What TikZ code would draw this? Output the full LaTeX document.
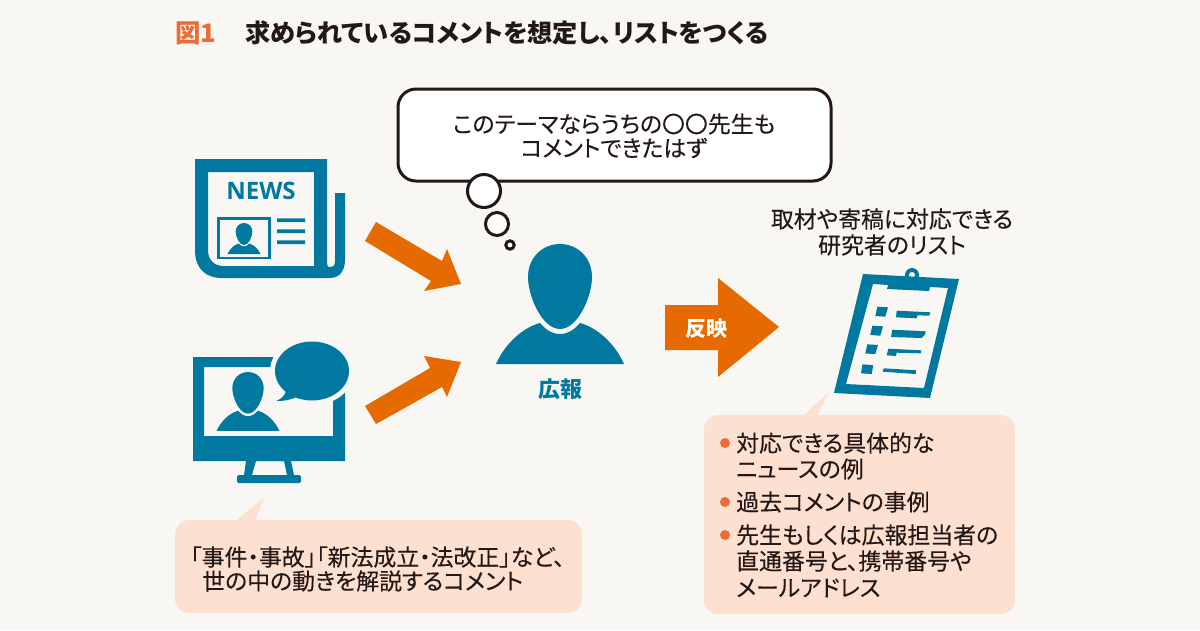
\documentclass[tikz,border=0pt]{standalone}
\usepackage{fontspec}
\setmainfont{Noto Sans CJK JP}[RawFeature=+palt,FakeBold=0.2]
\newfontfamily\titlefont{Noto Sans CJK JP}[RawFeature=+palt]
\newfontfamily\newsfont{Open Sans}
\definecolor{pagebg}{HTML}{F9F7F3}
\definecolor{brandteal}{HTML}{00789F}
\definecolor{brandorange}{HTML}{E66A00}
\definecolor{titleorange}{HTML}{EC6C35}
\definecolor{peach}{HTML}{FDE0D0}
\definecolor{inkdark}{HTML}{231815}
\newcommand{\personicon}[3]{%
  \fill[brandteal,shift={(#1,#2)},scale=#3]
    (0,0) .. controls (18,0) and (32,14) .. (32,33)
    .. controls (32,52) and (18,85) .. (0,85)
    .. controls (-18,85) and (-32,52) .. (-32,33)
    .. controls (-32,14) and (-18,0) .. (0,0) -- cycle
    (-64,120) .. controls (-55,100) and (-38,84) .. (-20,79)
    .. controls (-14,86) and (-8,90) .. (0,90)
    .. controls (8,90) and (14,86) .. (20,79)
    .. controls (38,84) and (55,100) .. (64,120) -- cycle;}
\tikzset{
  txt/.style={inner sep=0pt,text=inkdark,font=\fontsize{22.9}{26}\selectfont},
  thought/.style={draw=inkdark,fill=white,line width=3pt},
  callout/.style={fill=peach,rounded corners=14pt},
  blockarrow/.style={fill=brandorange},
  dot/.style={circle,fill=titleorange,inner sep=0pt,minimum size=10pt},
}
\begin{document}
\begin{tikzpicture}[x=1pt,y=-1pt]
\fill[pagebg] (0,0) rectangle (1200,630);
\useasboundingbox (0,0) rectangle (1200,630);
% title
\node[inner sep=0pt,anchor=west,text=titleorange,font=\titlefont\bfseries\fontsize{25.5}{28}\selectfont] (fig) at (175,33) {図1};
\node[inner sep=0pt,anchor=west,text=inkdark,font=\titlefont\bfseries\fontsize{25.2}{28}\selectfont] (title) at (245,33) {求められているコメントを想定し、リストをつくる};
% speech bubble
\draw[thought,rounded corners=18pt] (398,89) rectangle (831,181);
\node[txt] (say1) at (614,124) {このテーマならうちの〇〇先生も};
\node[txt] (say2) at (614,148) {コメントできたはず};
\draw[thought] (484,191) circle (16.5pt);
\draw[thought] (497,224) circle (11.5pt);
\draw[thought] (510,245) circle (4.2pt);
% newspaper
\fill[brandteal,even odd rule]
  (195,159) -- (327,159) -- (327,262) .. controls (327,268) and (329,267) .. (331,267)
  .. controls (334,267) and (335,265) .. (335,262) -- (335,193) -- (345,193) -- (345,260)
  .. controls (345,270) and (340,278) .. (330,278) -- (222,278)
  .. controls (205,278) and (195,268) .. (195,250) -- cycle
  (208,172) -- (208,250) .. controls (208,260) and (214,266) .. (224,266) -- (314,266) -- (314,172) -- cycle;
\node[inner sep=0pt,text=brandteal,font=\newsfont\bfseries\fontsize{24}{26}\selectfont] (news) at (261,191) {NEWS};
\draw[brandteal,line width=2.6pt] (218.3,218.3) rectangle (269.7,258);
\personicon{244}{223}{0.26}
\fill[brandteal] (277,218.3) rectangle (305,222) (277,229.3) rectangle (305,233) (277,240.3) rectangle (305,244);
% monitor
\fill[brandteal,even odd rule] (193,357) rectangle (345,461) (204,367) rectangle (333,436);
\fill[brandteal,even odd rule] (246,461) -- (291,461) -- (294,475) -- (244,475) -- cycle
  (256,461) -- (284,461) -- (287,475) -- (252,475) -- cycle;
\fill[brandteal,rounded corners=1.5pt] (237,483) -- (237,475) -- (301,475) -- (301,483) -- cycle;
\personicon{248}{372}{0.49}
\fill[pagebg] (312,371) ellipse [x radius=42,y radius=34.5];
\fill[pagebg] (346,372) rectangle (352,400);
\fill[brandteal] (312,371) ellipse [x radius=37,y radius=29.5];
\fill[brandteal] (286,390) .. controls (286,394) and (282,399) .. (276,401) .. controls (284,401) and (292,400) .. (298,396) -- cycle;
% arrows
\fill[blockarrow] (376,222) -- (365,241) -- (431,281) -- (424,291) -- (461,284) -- (447,249) -- (442,261) -- cycle;
\fill[blockarrow] (365,406) -- (376,424) -- (442,387) -- (447,397) -- (461,362) -- (424,356) -- (430,368) -- cycle;
\fill[blockarrow] (665,305) -- (718,305) -- (718,278) -- (779,327) -- (718,377) -- (718,350) -- (665,350) -- cycle;
\node[inner sep=0pt,text=white,font=\titlefont\bfseries\fontsize{21}{24}\selectfont] (reflect) at (706,329) {反映};
% person
\personicon{560}{244}{1}
\node[inner sep=0pt,text=brandteal,font=\titlefont\bfseries\fontsize{22}{24}\selectfont] (koho) at (560,389) {広報};
% list heading
\node[txt] (list1) at (892,219) {取材や寄稿に対応できる};
\node[txt] (list2) at (892,245) {研究者のリスト};
% clipboard
\fill[brandteal] (912,275) circle (7pt);
\fill[pagebg] (912,275) circle (3pt);
\fill[brandteal,even odd rule]
  (863,274) -- (959,279) -- (930,398) -- (834,393) -- cycle
  (873,284) -- (888,285) -- (887,289) -- (929,291) -- (930,287) -- (948,288) -- (924,388) -- (846,384) -- cycle;
\fill[brandteal]
  (877.3,306.7) -- (888,307.3) -- (885.3,316.7) -- (875.3,316) -- cycle
  (872.3,325.7) -- (883,326.3) -- (880.3,335.7) -- (870.3,335) -- cycle
  (867.3,344.3) -- (878,345) -- (875.3,354) -- (865.3,353.5) -- cycle
  (862.5,364.3) -- (873.3,365.3) -- (871.7,374) -- (861,373.3) -- cycle
  (896.7,310.7) -- (930.3,312.3) -- (929.3,315.7) -- (917.3,315.3) -- (916.7,318.3) -- (896,317.3) -- cycle
  (892.3,329.7) -- (925.7,331.3) -- (925,334.7) -- (921.7,338) -- (891,337) -- cycle
  (888.3,348.7) -- (921.3,350.3) -- (920.7,353.3) -- (896.7,352.7) -- (896,356) -- (886.7,355.3) -- cycle
  (883.7,368.3) -- (916.3,370.3) -- (915.7,374) -- (882.7,371.7) -- cycle;
% left callout
\fill[peach] (236,521) -- (263.5,498) -- (255,521) -- cycle;
\fill[callout] (175,520) rectangle (582,613);
\node[txt,anchor=west] (left1) at (190,557) {「事件・事故」「新法成立・法改正」など、};
\node[txt,anchor=west] (left2) at (202,581) {世の中の動きを解説するコメント};
% right callout
\fill[peach] (803,416) -- (829,392) -- (817,416) -- cycle;
\fill[callout] (704,415) rectangle (1015,614);
\node[dot] (d1) at (725,443) {};
\node[dot] (d2) at (725,502) {};
\node[dot] (d3) at (725,535) {};
\node[txt,anchor=west] (r1) at (736,443) {対応できる具体的な};
\node[txt,anchor=west] (r2) at (736,469) {ニュースの例};
\node[txt,anchor=west] (r3) at (736,502) {過去コメントの事例};
\node[txt,anchor=west] (r4) at (736,535) {先生もしくは広報担当者の};
\node[txt,anchor=west] (r5) at (736,561) {直通番号と、携帯番号や};
\node[txt,anchor=west] (r6) at (736,588) {メールアドレス};
\end{tikzpicture}
\end{document}
